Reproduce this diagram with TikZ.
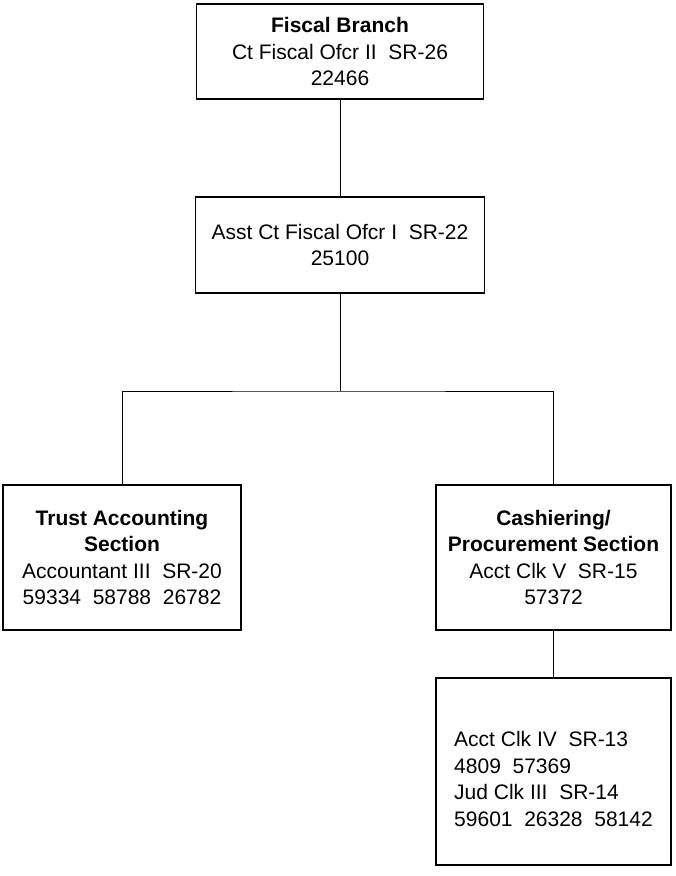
\documentclass[tikz,border=0pt]{standalone}
\usepackage{fontspec}
\setmainfont{Liberation Sans}

\begin{document}
\begin{tikzpicture}[x=1pt,y=-1pt,
  box/.style={draw,line width=1.8pt,align=center,inner sep=0pt,
    font=\fontsize{21}{26.5}\selectfont},
  link/.style={line width=1pt}]
\useasboundingbox (0,0) rectangle (676,876);
\node[box,minimum width=287,minimum height=95] (F) at (340,51.5) {\textbf{Fiscal Branch}\\Ct Fiscal Ofcr II~~SR-26\\22466};
\node[box,minimum width=289,minimum height=96] (A) at (340,245) {Asst Ct Fiscal Ofcr I~~SR-22\\25100};
\node[box,minimum width=238,minimum height=145] (T) at (122,557.5) {\textbf{Trust Accounting}\\\textbf{Section}\\Accountant III~~SR-20\\59334~~58788~~26782};
\node[box,minimum width=235,minimum height=145] (C) at (553.5,557.5) {\textbf{Cashiering/}\\\textbf{Procurement Section}\\Acct Clk V~~SR-15\\57372};
\node[box,align=left,minimum width=235,minimum height=187] (K) at (553.5,771.5) {\rule{0pt}{30pt}Acct Clk IV~~SR-13\\4809~~57369\\Jud Clk III~~SR-14\\59601~~26328~~58142};
\coordinate (J) at (340,391);
\draw[link] (F)--(A);
\draw[link] (A)--(J);
\draw[link] (T) |- (J) -| (C);
\draw[link] (C)--(K);
\end{tikzpicture}
\end{document}
